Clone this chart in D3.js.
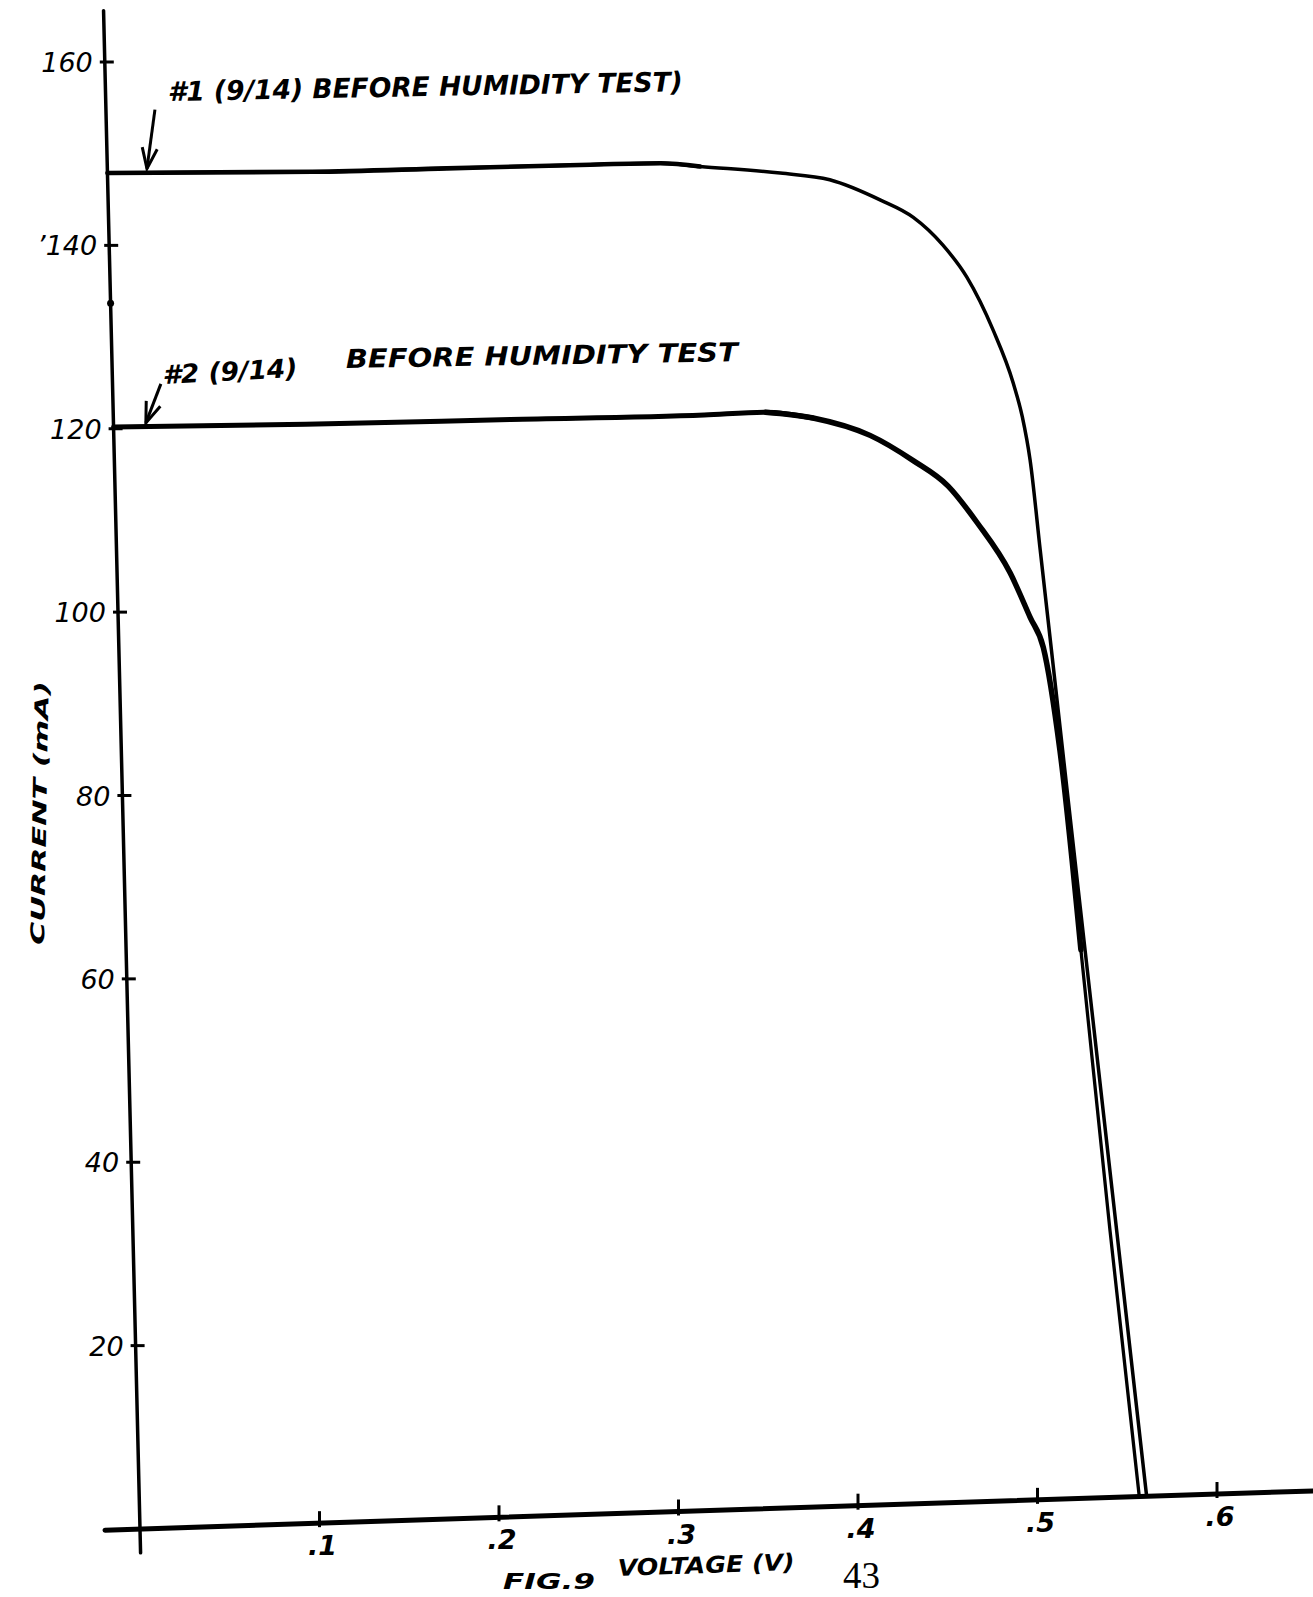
<!DOCTYPE html>
<html>
<head>
<meta charset="utf-8">
<script src="https://cdn.jsdelivr.net/npm/d3@7"></script>
<style>
  html, body { margin: 0; padding: 0; background: #fff; }
  svg { display: block; }
  text { font-family: "DejaVu Sans", sans-serif; fill: #000; }
</style>
</head>
<body>
<svg id="chart" width="1313" height="1597"></svg>
<script>
// ---- data ----
const voltage1 = [0, 0.114, 0.189, 0.263, 0.308, 0.330, 0.3745, 0.402, 0.430, 0.448, 0.464, 0.477, 0.491, 0.5014, 0.506, 0.5098, 0.5142, 0.5191, 0.524, 0.5338, 0.5477, 0.5608];
const current1 = [147.9, 147.3, 147.2, 147.1, 147.0, 146.5, 145.5, 144.6, 142.2, 140.2, 137.1, 133.5, 127.6, 121.8, 118.1, 113.3, 103.5, 92.6, 81.6, 59.8, 29.0, 0];
const voltage2 = [0, 0.107, 0.221, 0.329, 0.363, 0.3895, 0.421, 0.4447, 0.4638, 0.4795, 0.4972, 0.5077, 0.5146, 0.5225, 0.5315, 0.544, 0.5567];
const current2 = [120.2, 119.8, 119.6, 119.4, 119.5, 118.7, 116.6, 113.7, 110.8, 106.7, 101.1, 96.2, 92.9, 81.6, 59.8, 29.0, 0];
const voltageTicks = [0.1, 0.2, 0.3, 0.4, 0.5, 0.6];
const voltageTickLabels = [".1", ".2", ".3", ".4", ".5", ".6"];
const currentTicks = [20, 40, 60, 80, 100, 120, 140, 160];
const currentTickLabels = ["20", "40", "60", "80", "100", "120", "\u2019140", "160"];
const currentStrayMarks = [133.7];
const seriesLabels = ["#1 (9/14) BEFORE HUMIDITY TEST)", "#2 (9/14)", "BEFORE HUMIDITY TEST"];
const xTitle = "VOLTAGE (V)";
const yTitle = "CURRENT (mA)";
const pageNumber = "43";
const figLabel = "FIG.9";

// ---- scales (hand-drawn axes are slightly skewed) ----
const x = d3.scaleLinear().domain([0, 0.6]).range([0, 1077]);
const y = d3.scaleLinear().domain([0, 160]).range([0, -1467]);
const ox = 140, oy = 1529, skewX = 0.024, skewY = -0.03248;
function P(v, i) {
  return [ox + x(v) + skewX * y(i), oy + skewY * x(v) + y(i)];
}

const svg = d3.select("#chart");
svg.append("rect").attr("width", 1313).attr("height", 1597).attr("fill", "#fff");

// axes
const ya0 = P(0, -2.6), ya1 = P(0, 165.6);
svg.append("line").attr("x1", ya0[0]).attr("y1", ya0[1]).attr("x2", ya1[0]).attr("y2", ya1[1])
  .attr("stroke", "#000").attr("stroke-width", 3.5).attr("stroke-linecap", "round");
const xa0 = P(-0.0195, 0), xa1 = P(0.66, 0);
svg.append("line").attr("x1", xa0[0]).attr("y1", xa0[1]).attr("x2", xa1[0]).attr("y2", xa1[1])
  .attr("stroke", "#000").attr("stroke-width", 5).attr("stroke-linecap", "round");

// y ticks
currentTicks.forEach((t, k) => {
  const p = P(0, t);
  svg.append("line").attr("x1", p[0] - 5).attr("y1", p[1]).attr("x2", p[0] + 9).attr("y2", p[1])
    .attr("stroke", "#000").attr("stroke-width", 3);
  svg.append("text").attr("x", p[0] - 12).attr("y", p[1] + 10)
    .attr("text-anchor", "end").attr("font-size", 27).attr("font-style", "italic")
    .text(currentTickLabels[k]);
});
currentStrayMarks.forEach(t => {
  const p = P(0, t);
  svg.append("circle").attr("cx", p[0]).attr("cy", p[1]).attr("r", 3.5).attr("fill", "#000");
});

// x ticks
voltageTicks.forEach((t, k) => {
  const p = P(t, 0);
  svg.append("line").attr("x1", p[0]).attr("y1", p[1] - 12).attr("x2", p[0]).attr("y2", p[1] + 4)
    .attr("stroke", "#000").attr("stroke-width", 3);
  svg.append("text").attr("x", p[0] + 3).attr("y", p[1] + 32)
    .attr("text-anchor", "middle").attr("font-size", 27).attr("font-style", "italic").attr("font-weight", "bold")
    .text(voltageTickLabels[k]);
});

// curves
const line = d3.line()
  .x(d => P(d[0], d[1])[0])
  .y(d => P(d[0], d[1])[1])
  .curve(d3.curveMonotoneX);
const s1 = voltage1.map((v, k) => [v, current1[k]]);
const s2 = voltage2.map((v, k) => [v, current2[k]]);
function drawCurve(pts, width) {
  svg.append("path").attr("d", line(pts)).attr("fill", "none").attr("stroke", "#000")
    .attr("stroke-width", width).attr("stroke-linecap", "round").attr("stroke-linejoin", "round");
}
// full curves (thin pen), with heavier pen on the parts that were inked heavier
drawCurve(s1, 3.5);
drawCurve(s1.filter(d => d[0] <= 0.34), 4.6);
drawCurve(s2, 3.3);
drawCurve(s2.filter(d => d[0] <= 0.4), 5);
drawCurve(s2.filter(d => d[0] >= 0.363 && d[1] >= 59), 5.5);

// annotation arrows
function arrow(from, to) {
  svg.append("line").attr("x1", from[0]).attr("y1", from[1]).attr("x2", to[0]).attr("y2", to[1])
    .attr("stroke", "#000").attr("stroke-width", 3);
  const ang = Math.atan2(to[1] - from[1], to[0] - from[0]);
  const L = 22, w = 0.35;
  const a = [to[0] - L * Math.cos(ang - w), to[1] - L * Math.sin(ang - w)];
  const b = [to[0] - L * Math.cos(ang + w), to[1] - L * Math.sin(ang + w)];
  svg.append("path").attr("d", `M${a[0]},${a[1]}L${to[0]},${to[1]}L${b[0]},${b[1]}`)
    .attr("fill", "none").attr("stroke", "#000").attr("stroke-width", 3);
}
const tip1 = P(0.022, current1[0]);
arrow([tip1[0] + 8, tip1[1] - 62], [tip1[0], tip1[1] - 3]);
const tip2 = P(0.018, current2[0]);
arrow([tip2[0] + 15, tip2[1] - 42], [tip2[0], tip2[1] - 3]);

// annotation texts
svg.append("text").attr("x", 168).attr("y", 101)
  .attr("transform", "rotate(-1.1,168,101)")
  .attr("font-size", 27).attr("font-style", "italic").attr("font-weight", "bold")
  .attr("textLength", 515).attr("lengthAdjust", "spacingAndGlyphs")
  .text(seriesLabels[0]);
svg.append("text").attr("x", 163).attr("y", 384)
  .attr("transform", "rotate(-3,163,384)")
  .attr("font-size", 26).attr("font-style", "italic").attr("font-weight", "bold")
  .attr("textLength", 135).attr("lengthAdjust", "spacingAndGlyphs")
  .text(seriesLabels[1]);
svg.append("text").attr("x", 346).attr("y", 368)
  .attr("transform", "rotate(-1,346,368)")
  .attr("font-size", 26).attr("font-style", "italic").attr("font-weight", "bold")
  .attr("textLength", 392).attr("lengthAdjust", "spacingAndGlyphs")
  .text(seriesLabels[2]);

// axis titles
svg.append("text").attr("x", 618).attr("y", 1576)
  .attr("transform", "rotate(-2,618,1576)")
  .attr("font-size", 23).attr("font-style", "italic").attr("font-weight", "bold")
  .attr("textLength", 177).attr("lengthAdjust", "spacingAndGlyphs")
  .text(xTitle);
svg.append("text").attr("x", 44).attr("y", 945)
  .attr("transform", "rotate(-89,44,945)")
  .attr("font-size", 19).attr("font-style", "italic").attr("font-weight", "bold")
  .attr("textLength", 264).attr("lengthAdjust", "spacingAndGlyphs")
  .text(yTitle);

// page marks
svg.append("text").attr("x", 843).attr("y", 1588)
  .style("font-family", "'Liberation Serif', serif").attr("font-size", 37)
  .text(pageNumber);
svg.append("text").attr("x", 503).attr("y", 1589)
  .attr("font-size", 21).attr("font-style", "italic").attr("font-weight", "bold")
  .attr("textLength", 92).attr("lengthAdjust", "spacingAndGlyphs")
  .text(figLabel);
</script>
</body>
</html>
